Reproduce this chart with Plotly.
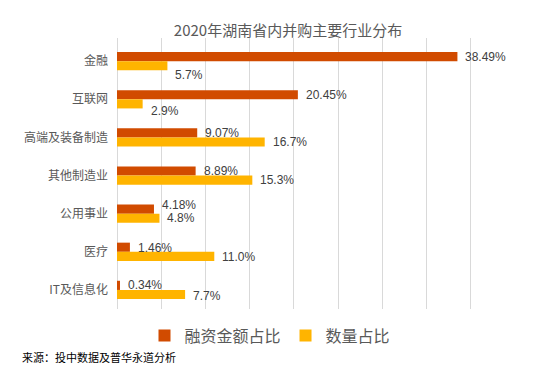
import plotly.graph_objects as go

categories = ["金融", "互联网", "高端及装备制造", "其他制造业", "公用事业", "医疗", "IT及信息化"]
amount_share = [38.49, 20.45, 9.07, 8.89, 4.18, 1.46, 0.34]
count_share = [5.7, 2.9, 16.7, 15.3, 4.8, 11.0, 7.7]
amount_labels = ["38.49%", "20.45%", "9.07%", "8.89%", "4.18%", "1.46%", "0.34%"]
count_labels = ["5.7%", "2.9%", "16.7%", "15.3%", "4.8%", "11.0%", "7.7%"]

# label vertical nudges (px, positive = down), style only
amount_nudge = [0, 0, 0, 0, -4.5, 1, 0]
count_nudge = [9.5, 7, 0, 0, 0, 1, 1]

FONT = "Liberation Sans, Arial, Noto Sans CJK SC, sans-serif"
CJK = "Noto Sans CJK SC, Liberation Sans, sans-serif"
RED = "#D14B00"
YEL = "#FFB400"

# the page body has an 8px margin; positions below are compensated
OFF = 8
W, H = 550, 371
L, T = 117 - OFF, 38 - OFF
R = W - (515.5 - OFF)
B = H - (309.5 - OFF)

fig = go.Figure()
fig.add_trace(go.Bar(
    y=categories, x=amount_share, orientation="h", name="融资金额占比",
    marker=dict(color=RED, line=dict(width=0)),
))
fig.add_trace(go.Bar(
    y=categories, x=count_share, orientation="h", name="数量占比",
    marker=dict(color=YEL, line=dict(width=0)),
))

half = 4.65
for cat, v, lab, n in zip(categories, amount_share, amount_labels, amount_nudge):
    fig.add_annotation(x=v, y=cat, xref="x", yref="y", text=lab, showarrow=False,
                       xanchor="left", yanchor="middle", xshift=6, yshift=half - n,
                       font=dict(size=12, color="#404040", family=FONT))
for cat, v, lab, n in zip(categories, count_share, count_labels, count_nudge):
    fig.add_annotation(x=v, y=cat, xref="x", yref="y", text=lab, showarrow=False,
                       xanchor="left", yanchor="middle", xshift=6, yshift=-half - n,
                       font=dict(size=12, color="#404040", family=FONT))

fig.update_layout(
    width=W, height=H,
    margin=dict(l=L, r=R, t=T, b=B, autoexpand=False),
    paper_bgcolor="white", plot_bgcolor="white",
    barmode="group", bargap=0.52, bargroupgap=0,
    font=dict(family=CJK, color="#595959"),
    title=dict(text="2020年湖南省内并购主要行业分布", x=(288 - OFF) / W, xanchor="center",
               xref="container", y=1 - (30.5 - OFF) / H, yref="container", yanchor="middle",
               font=dict(size=15, color="#595959", family=CJK)),
    xaxis=dict(range=[0, 45], dtick=5, tick0=0, showgrid=True, gridcolor="#D9D9D9",
               gridwidth=1, showticklabels=False, zeroline=True, zerolinecolor="#D9D9D9",
               zerolinewidth=1, showline=False, fixedrange=True, automargin=False),
    yaxis=dict(autorange="reversed", showgrid=False, showline=False,
               tickfont=dict(size=12, color="#595959", family=CJK),
               ticklabelstandoff=8, fixedrange=True, automargin=False),
    legend=dict(orientation="h", x=(270 - OFF) / W, xanchor="center", xref="container",
                y=1 - (335.5 - OFF) / H, yref="container", yanchor="middle",
                font=dict(size=16, color="#595959", family=CJK),
                itemwidth=30, tracegroupgap=0, bgcolor="rgba(0,0,0,0)"),
    showlegend=True,
)

plot_w = W - L - R
plot_h = H - T - B
fig.add_annotation(
    text="来源：投中数据及普华永道分析", xref="paper", yref="paper",
    x=(20 - OFF - L) / plot_w, xanchor="left",
    y=-((358 - OFF) - (H - B)) / plot_h, yanchor="middle",
    showarrow=False, font=dict(size=11, color="#000000", family=CJK),
)

fig.write_html("out.html")
